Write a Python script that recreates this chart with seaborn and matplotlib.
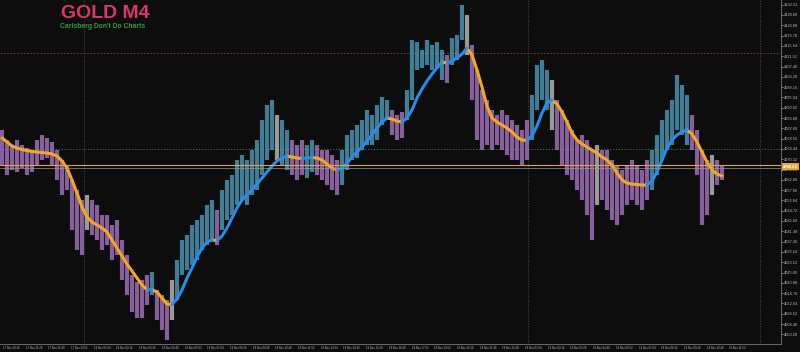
import numpy as np
import pandas as pd
import matplotlib
matplotlib.use("Agg")
import matplotlib.pyplot as plt
import matplotlib.transforms as mtransforms
import seaborn as sns

# ---------------- data ----------------
bar_high = [4082.0, 4078.0, 4076.0, 4078.0, 4076.0, 4074.8, 4074.0, 4078.0, 4080.0, 4078.8,
            4077.2, 4074.0, 4070.0, 4068.0, 4062.0, 4058.0, 4054.0, 4056.0, 4054.0, 4052.0,
            4048.0, 4048.0, 4044.0, 4046.0, 4038.0, 4032.0, 4024.0, 4021.2, 4022.0, 4024.0,
            4025.2, 4018.0, 4016.0, 4014.0, 4022.0, 4030.0, 4038.0, 4040.0, 4044.0, 4046.0,
            4048.0, 4052.0, 4054.0, 4050.0, 4058.0, 4062.0, 4064.0, 4070.0, 4072.0, 4070.0,
            4074.0, 4078.0, 4086.0, 4092.0, 4094.0, 4088.0, 4086.0, 4082.0, 4078.0, 4076.0,
            4078.0, 4076.0, 4078.0, 4076.0, 4074.0, 4074.0, 4072.0, 4070.0, 4074.0, 4080.0,
            4082.0, 4084.0, 4086.0, 4090.0, 4088.0, 4092.0, 4095.2, 4094.0, 4090.0, 4088.0,
            4089.2, 4098.0, 4118.0, 4117.2, 4114.0, 4118.0, 4116.0, 4117.2, 4114.0, 4112.0,
            4118.8, 4120.0, 4132.0, 4128.0, 4116.0, 4106.0, 4098.0, 4094.0, 4090.0, 4088.0,
            4090.0, 4088.0, 4086.0, 4084.0, 4082.0, 4086.0, 4096.0, 4108.0, 4110.0, 4106.0,
            4102.0, 4094.0, 4090.0, 4086.0, 4082.0, 4078.0, 4080.0, 4078.0, 4074.0, 4076.0,
            4074.0, 4074.0, 4070.0, 4068.0, 4066.0, 4068.0, 4070.0, 4068.0, 4066.0, 4070.0,
            4074.0, 4080.0, 4086.0, 4090.0, 4094.0, 4104.0, 4100.0, 4096.0, 4088.0, 4082.0,
            4074.0, 4070.0, 4072.0, 4070.0, 4068.0]

bar_low = [4068.0, 4064.0, 4066.0, 4065.2, 4066.8, 4064.0, 4065.2, 4068.0, 4070.0, 4070.8,
           4068.0, 4062.0, 4056.0, 4058.0, 4042.0, 4034.0, 4032.0, 4042.0, 4040.0, 4038.0,
           4034.0, 4036.0, 4030.0, 4032.0, 4022.0, 4016.0, 4009.2, 4006.8, 4006.8, 4012.0,
           4016.0, 4006.0, 4002.0, 3998.0, 4006.0, 4014.0, 4024.0, 4026.0, 4028.0, 4030.0,
           4034.0, 4036.0, 4038.0, 4036.0, 4042.0, 4046.0, 4048.0, 4052.0, 4054.0, 4052.0,
           4056.0, 4058.0, 4064.0, 4070.0, 4074.0, 4070.0, 4068.0, 4066.0, 4064.0, 4062.0,
           4064.0, 4062.8, 4065.2, 4064.0, 4062.0, 4060.0, 4058.0, 4056.0, 4060.0, 4066.0,
           4070.0, 4070.8, 4074.0, 4076.0, 4076.0, 4078.0, 4084.0, 4086.0, 4080.0, 4078.0,
           4078.8, 4086.0, 4094.0, 4106.0, 4106.8, 4108.0, 4106.0, 4106.8, 4102.0, 4100.8,
           4108.0, 4110.0, 4118.0, 4112.0, 4094.0, 4078.0, 4074.0, 4076.0, 4074.0, 4076.0,
           4074.0, 4072.0, 4070.0, 4070.0, 4068.0, 4070.0, 4078.0, 4090.0, 4094.0, 4090.0,
           4082.0, 4074.0, 4068.0, 4064.0, 4062.0, 4058.0, 4054.0, 4048.0, 4038.0, 4052.0,
           4054.0, 4050.0, 4046.0, 4044.0, 4048.0, 4052.0, 4054.0, 4052.0, 4050.0, 4054.0,
           4058.0, 4064.0, 4070.0, 4074.0, 4076.0, 4082.0, 4080.0, 4076.0, 4074.0, 4064.0,
           4044.0, 4048.0, 4056.0, 4060.0, 4062.0]

ma_values = [4078.8, 4077.2, 4075.6, 4074.8, 4074.2, 4073.8, 4073.4, 4073.2, 4073.0, 4072.8,
             4072.4, 4071.6, 4069.6, 4066.8, 4062.0, 4056.8, 4051.2, 4047.2, 4045.2, 4044.0,
             4042.8, 4041.2, 4038.0, 4034.8, 4031.6, 4028.4, 4025.6, 4022.8, 4020.0, 4018.0,
             4018.2, 4017.2, 4014.8, 4012.4, 4012.2, 4014.4, 4018.0, 4022.8, 4026.8, 4031.2,
             4034.8, 4037.2, 4038.0, 4037.8, 4039.6, 4042.8, 4046.8, 4050.8, 4054.0, 4056.0,
             4058.0, 4060.4, 4062.8, 4065.2, 4067.6, 4069.6, 4070.8, 4071.6, 4071.2, 4070.8,
             4070.6, 4070.8, 4071.0, 4070.8, 4070.0, 4068.4, 4066.8, 4066.0, 4066.8, 4068.8,
             4071.2, 4073.2, 4075.2, 4077.6, 4080.0, 4082.8, 4085.2, 4086.8, 4086.4, 4085.6,
             4085.2, 4086.8, 4090.0, 4094.8, 4098.4, 4101.6, 4104.4, 4106.8, 4109.2, 4108.8,
             4109.6, 4110.8, 4112.4, 4114.8, 4112.0, 4106.0, 4099.2, 4091.6, 4086.8, 4085.2,
             4084.0, 4082.8, 4081.2, 4079.2, 4078.0, 4077.8, 4079.6, 4083.6, 4088.8, 4092.8,
             4094.0, 4092.4, 4089.2, 4085.2, 4080.8, 4078.0, 4076.4, 4075.2, 4074.0, 4072.8,
             4071.2, 4070.0, 4068.0, 4064.8, 4062.0, 4060.8, 4060.4, 4060.2, 4060.0, 4060.0,
             4061.6, 4065.2, 4070.0, 4074.8, 4078.0, 4080.0, 4081.2, 4082.0, 4080.4, 4077.2,
             4073.2, 4069.2, 4066.0, 4064.4, 4063.6]

y_tick_values = [4132.12, 4128.00, 4123.88, 4119.76, 4115.64, 4111.52, 4107.40, 4103.28,
                 4099.16, 4095.04, 4090.92, 4086.80, 4082.68, 4078.56, 4074.44, 4070.32,
                 4066.20, 4062.08, 4057.96, 4053.84, 4049.72, 4045.60, 4041.48, 4037.36,
                 4033.24, 4029.12, 4025.00, 4020.88, 4016.76, 4012.64, 4008.52, 4004.40,
                 4000.28]

x_tick_labels = ["17 Nov 20:16", "17 Nov 21:28", "17 Nov 22:40", "17 Nov 23:52",
                 "18 Nov 01:04", "18 Nov 02:16", "18 Nov 03:28", "18 Nov 04:40",
                 "18 Nov 05:52", "18 Nov 07:04", "18 Nov 08:16", "18 Nov 09:28",
                 "18 Nov 10:40", "18 Nov 11:52", "18 Nov 13:04", "18 Nov 14:16",
                 "18 Nov 15:28", "18 Nov 16:40", "18 Nov 17:52", "18 Nov 19:04",
                 "18 Nov 20:16", "18 Nov 21:28", "18 Nov 22:40", "19 Nov 01:04",
                 "19 Nov 02:16", "19 Nov 03:28", "19 Nov 04:40", "19 Nov 05:52",
                 "19 Nov 07:04", "19 Nov 08:16", "19 Nov 09:28", "19 Nov 10:40",
                 "19 Nov 11:52"]

resistance_level = 4112.8
support_level = 4074.4
bid_price = 4068.0
ask_price = 4066.8
day_breaks = [16.4, 105.2]
future_line = 151.6
title_text = "GOLD M4"
subtitle_text = "Carlsberg Don't Do Charts"

# ---------------- style ----------------
BG = "#0d0d0d"
TEAL = "#4f97b8"
PURPLE = "#a372bd"
GRAY = "#b9b9b9"
BLUE = "#2b8be6"
ORANGE = "#f5a623"

sns.set_theme(style="dark", rc={"axes.facecolor": BG, "figure.facecolor": BG})
plt.rcParams["font.family"] = ["Liberation Sans", "DejaVu Sans"]

fig = plt.figure(figsize=(8.0, 3.52), dpi=100)
ax = fig.add_axes([0.0, 8 / 352, 781 / 800, 344 / 352])
ax.set_facecolor(BG)
ax.grid(False)

n = len(bar_high)
x = np.arange(n)
hi = np.array(bar_high)
lo = np.array(bar_low)
ma = np.array(ma_values)
mid = (hi + lo) / 2

slope = np.empty(n)
slope[1:] = np.diff(ma)
slope[0] = ma[1] - ma[0]
dmid = np.zeros(n)
dmid[1:] = np.diff(mid)

bar_colors = []
for i in range(n):
    if slope[i] > 0:
        bar_colors.append(TEAL if dmid[i] > -5 else GRAY)
    else:
        bar_colors.append(PURPLE if dmid[i] < 5 else GRAY)

# reference lines
ax.axhline(resistance_level, color="#8a3d2c", ls=(0, (2, 2)), lw=0.6, zorder=1)
ax.axhline(support_level, color="#3f8a3f", ls=(0, (1.5, 2)), lw=0.6, zorder=1)
for d in day_breaks:
    ax.axvline(d, color="#5a5a5a", ls=(0, (1, 2)), lw=0.6, zorder=1)
ax.axvline(future_line, color="#5a5a5a", ls=(0, (1, 2)), lw=0.6, zorder=1)

# price bars
ax.vlines(x, lo, hi, colors=bar_colors, linewidth=3.0, alpha=0.82, zorder=2)

# moving average split into rising / falling runs
rows = []
run = 0
prev = None
for i in range(n - 1):
    d = "up" if ma[i + 1] > ma[i] else "down"
    if prev is not None and d != prev:
        run += 1
    if prev is None or d != prev:
        rows.append((x[i], ma[i], d, run))
    rows.append((x[i + 1], ma[i + 1], d, run))
    prev = d
df_ma = pd.DataFrame(rows, columns=["x", "ma", "dir", "run"])
sns.lineplot(data=df_ma, x="x", y="ma", hue="dir", units="run", estimator=None,
             sort=False, palette={"up": BLUE, "down": ORANGE}, linewidth=2.2,
             legend=False, ax=ax, solid_capstyle="round", zorder=4)

ax.axhline(bid_price, color="#e6a335", lw=0.8, zorder=5)
ax.axhline(ask_price, color="#9a9a9a", lw=0.5, zorder=5)

# axes
ax.set_xlim(-0.4, 155.8)
ax.set_ylim(3996.4, 4134.0)
ax.set_xlabel("")
ax.set_ylabel("")
ax.yaxis.tick_right()
ax.set_yticks(y_tick_values)
ax.set_yticklabels([f"{v:.2f}" for v in y_tick_values])
xt = 0.2 + 4.54 * np.arange(len(x_tick_labels))
ax.set_xticks(xt)
ax.set_xticklabels(x_tick_labels, ha="left")
ax.tick_params(axis="y", length=1.5, width=0.5, colors="#bdbdbd", labelsize=2.8, pad=0.8,
               direction="out", right=True, left=False)
ax.tick_params(axis="x", length=0, colors="#bdbdbd", labelsize=2.0, pad=1.2)
for s in ["left", "top"]:
    ax.spines[s].set_visible(False)
for s in ["right", "bottom"]:
    ax.spines[s].set_visible(True)
    ax.spines[s].set_color("#7a7a7a")
    ax.spines[s].set_linewidth(0.6)

# current price box
trans = mtransforms.blended_transform_factory(ax.transAxes, ax.transData)
ax.text(1.003, bid_price - 0.6, f"{bid_price:.2f}", transform=trans, ha="left", va="center",
        fontsize=3.0, color="white", fontweight="bold",
        bbox=dict(boxstyle="square,pad=0.3", fc="#e8a33a", ec="none"),
        clip_on=False, zorder=10)

# title
fig.text(61 / 800, 1 - 5 / 352, title_text, ha="left", va="top", fontsize=14,
         fontweight="bold", color="#d8386d")
fig.text(60 / 800, 1 - 27 / 352, subtitle_text, ha="left", va="center", fontsize=4.9,
         fontweight="bold", color="#2e9a3e")

fig.savefig("out.png", dpi=100, facecolor=BG)
